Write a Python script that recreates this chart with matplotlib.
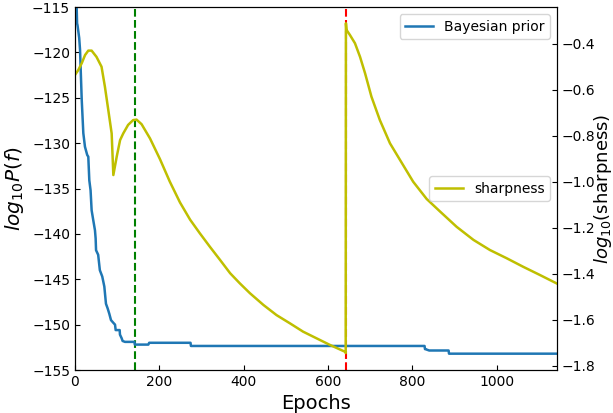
"""Bayesian prior vs. sharpness over training epochs (twin y axes)."""

import matplotlib

matplotlib.use("Agg")
import matplotlib.pyplot as plt

# values (step corners listed explicitly)
prior_epochs = [0, 4, 5, 6, 8, 10, 12, 16, 19.8, 23.7, 29, 31.6, 34, 37, 39.5,
                43.4, 47.4, 49, 50, 55, 59, 64.7, 69.6, 73.5, 77.4, 81.4, 85.4,
                91, 95, 96.5, 106, 106.7, 110.7, 113, 118.6, 141, 142, 174,
                176, 274, 275, 829, 830, 831, 840, 842, 886, 887, 1143]
prior_vals = [-113.0, -115.0, -116.8, -117.0, -117.7, -118.4, -119.7, -125.2,
              -128.9, -130.4, -131.3, -131.5, -134.1, -135.2, -137.4, -138.5,
              -139.6, -140.5, -141.8, -142.3, -144.0, -144.7, -145.8, -147.7,
              -148.2, -148.8, -149.5, -149.8, -150.0, -150.6, -150.6, -151.1,
              -151.5, -151.8, -151.9, -151.9, -152.2, -152.2, -152.0, -152.0,
              -152.35, -152.35, -152.7, -152.7, -152.85, -152.85, -152.85,
              -153.2, -153.2]

sharp_epochs = [0, 8, 16, 24, 31.6, 39.5, 51, 63, 71, 79, 87, 91, 99, 107,
                114.5, 126, 138, 146, 158, 178, 201.6, 225, 249, 273, 296, 320,
                344, 368, 391, 415, 447, 478, 510, 541, 573, 605, 640, 642,
                642.5, 644, 652, 664, 676, 688, 703, 723, 747, 771, 802, 834,
                866, 905, 945, 984, 1024, 1063, 1103, 1142]
sharp_vals = [-0.536, -0.514, -0.485, -0.449, -0.430, -0.430, -0.457, -0.500,
              -0.587, -0.688, -0.790, -0.971, -0.891, -0.819, -0.790, -0.753,
              -0.732, -0.730, -0.750, -0.812, -0.902, -1.000, -1.090, -1.165,
              -1.224, -1.283, -1.340, -1.398, -1.442, -1.485, -1.536, -1.580,
              -1.616, -1.652, -1.681, -1.710, -1.739, -1.745, -0.311, -0.340,
              -0.362, -0.398, -0.457, -0.529, -0.630, -0.732, -0.833, -0.906,
              -1.000, -1.075, -1.130, -1.196, -1.253, -1.297, -1.333, -1.370,
              -1.406, -1.442]

green_epoch = 142
red_epoch = 642


def main() -> None:
    fig = plt.figure(figsize=(6.13, 4.13), dpi=100)
    ax1 = fig.add_axes([0.1223, 0.1041, 0.7863, 0.8789])
    ax1.axvline(green_epoch, color="g", ls="--", lw=1.5)
    ax1.axvline(red_epoch, color="r", ls="--", lw=1.5)
    ax1.plot(prior_epochs, prior_vals, color="#1f77b4", lw=1.8,
             label="Bayesian prior")
    ax1.set_xlim(0, 1143)
    ax1.set_ylim(-155, -115)
    ax1.set_xlabel("Epochs", fontsize=14)
    ax1.set_ylabel(r"$log_{10}P(f)$", fontsize=14.5)
    ax1.tick_params(direction="in", labelsize=10)
    ax1.legend(loc="upper right", fontsize=10)

    ax2 = ax1.twinx()
    ax2.plot(sharp_epochs, sharp_vals, color="y", lw=1.8, label="sharpness")
    ax2.set_ylim(-1.8187, -0.2404)
    ax2.set_ylabel(r"$log_{10}$(sharpness)", fontsize=13)
    ax2.yaxis.set_label_coords(1.0735, 0.5)
    ax2.tick_params(direction="in", labelsize=10)
    ax2.legend(loc="center right", fontsize=10)

    fig.savefig("out.png", dpi=100)


if __name__ == "__main__":
    main()
